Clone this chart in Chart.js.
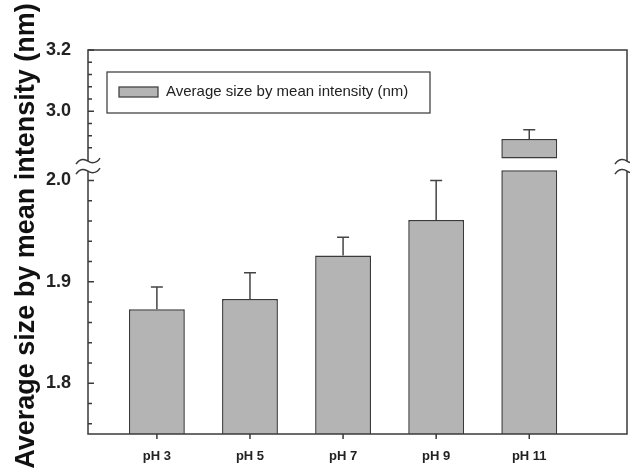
<!DOCTYPE html>
<html>
<head>
<meta charset="utf-8">
<script src="https://cdn.jsdelivr.net/npm/chart.js@4.4.1/dist/chart.umd.min.js"></script>
<style>
  html, body { margin: 0; padding: 0; background: #fff; }
</style>
</head>
<body>
<canvas id="chart" width="630" height="470"></canvas>
<script>
// ---- Data ----
const CATEGORIES = ['pH 3', 'pH 5', 'pH 7', 'pH 9', 'pH 11'];
const SIZES = [1.873, 1.883, 1.926, 1.961, 2.909];
const ERRORS = [0.022, 0.026, 0.018, 0.039, 0.030];
const LOWER_TICKS = [1.8, 1.9, 2.0];
const UPPER_TICKS = [3.0, 3.2];
const LOWER_RANGE = [1.75, 2.02];
const UPPER_RANGE = [2.84, 3.2];
// where a bar crossing the axis break is cut
const BREAK_LOW = 2.01;
const BREAK_HIGH = 2.845;

const SERIES_LABEL = 'Average size by mean intensity (nm)';
const BAR_FILL = '#b4b4b4';
const DARK = '#3a3a3a';

// ---- Datasets (bars split across the broken axis) ----
const lowerBars = SIZES.map((v, i) => ({ x: i + 1, y: Math.min(v, BREAK_LOW) }));
const upperBars = SIZES.map((v, i) => (v > BREAK_HIGH ? { x: i + 1, y: [BREAK_HIGH, v] } : null))
                       .filter(Boolean);

// ---- Plugins ----
const errorBars = {
  id: 'errorBars',
  afterDatasetsDraw(chart) {
    const { ctx } = chart;
    const xs = chart.scales.x;
    ctx.save();
    ctx.strokeStyle = '#444';
    ctx.lineWidth = 1.5;
    SIZES.forEach((v, i) => {
      const ys = v > BREAK_HIGH ? chart.scales.y2 : chart.scales.y;
      const x = xs.getPixelForValue(i + 1);
      const y0 = ys.getPixelForValue(v);
      const y1 = ys.getPixelForValue(v + ERRORS[i]);
      ctx.beginPath();
      ctx.moveTo(x, y0);
      ctx.lineTo(x, y1);
      ctx.moveTo(x - 6, y1);
      ctx.lineTo(x + 6, y1);
      ctx.stroke();
    });
    ctx.restore();
  }
};

const frame = {
  id: 'frame',
  afterDraw(chart) {
    const { ctx, chartArea: a } = chart;
    const lower = chart.scales.y, upper = chart.scales.y2, xs = chart.scales.x;
    ctx.save();
    ctx.strokeStyle = DARK;
    ctx.lineWidth = 1.5;
    ctx.strokeRect(a.left, a.top, a.right - a.left, a.bottom - a.top);

    // inward tick marks on the left axis, outward ones on the bottom axis
    ctx.beginPath();
    for (let k = 88; k <= 100; k++) {
      const v = k / 50;
      const len = k % 5 === 0 ? 6 : 4;
      const y = lower.getPixelForValue(v);
      ctx.moveTo(a.left, y);
      ctx.lineTo(a.left + len, y);
    }
    for (let k = 72; k <= 80; k++) {
      const v = k / 25;
      const len = (k === 75 || k === 80) ? 6 : 4;
      const y = upper.getPixelForValue(v);
      ctx.moveTo(a.left, y);
      ctx.lineTo(a.left + len, y);
    }
    CATEGORIES.forEach((c, i) => {
      const x = xs.getPixelForValue(i + 1);
      ctx.moveTo(x, a.bottom);
      ctx.lineTo(x, a.bottom + 5);
    });
    ctx.stroke();

    // axis break marks
    const yb = lower.top;
    [a.left, a.right].forEach(x => {
      ctx.fillStyle = '#fff';
      ctx.fillRect(x - 2, yb + 1, 4, 10);
      [yb + 1, yb + 11].forEach(y => {
        ctx.beginPath();
        ctx.moveTo(x - 12, y + 3);
        ctx.bezierCurveTo(x - 8, y - 3, x - 3, y - 2, x, y);
        ctx.bezierCurveTo(x + 3, y + 2, x + 8, y + 3, x + 12, y - 3);
        ctx.stroke();
      });
    });

    // legend
    ctx.lineWidth = 1.3;
    ctx.strokeStyle = '#444';
    ctx.strokeRect(107, 72, 323, 41);
    ctx.fillStyle = BAR_FILL;
    ctx.fillRect(119, 87, 39, 10);
    ctx.strokeRect(119, 87, 39, 10);
    ctx.fillStyle = '#222';
    ctx.font = '15px "Liberation Sans", Arial, sans-serif';
    ctx.textBaseline = 'middle';
    ctx.fillText(SERIES_LABEL, 166, 92);

    // y-axis title
    ctx.translate(34, 236);
    ctx.rotate(-Math.PI / 2);
    ctx.textAlign = 'center';
    ctx.textBaseline = 'alphabetic';
    ctx.font = 'bold 27px "Liberation Sans", Arial, sans-serif';
    ctx.fillStyle = '#111';
    ctx.fillText(SERIES_LABEL, 0, 0);
    ctx.restore();
  }
};

// ---- Config ----
const tickFont = { family: '"Liberation Sans", Arial, sans-serif', weight: 'bold', size: 18 };

const config = {
  type: 'bar',
  data: {
    datasets: [
      {
        label: SERIES_LABEL,
        data: lowerBars,
        yAxisID: 'y',
        backgroundColor: BAR_FILL,
        borderColor: DARK,
        borderWidth: 1.5,
        borderSkipped: false,
        grouped: false,
        categoryPercentage: 1,
        barPercentage: 0.6
      },
      {
        label: SERIES_LABEL,
        data: upperBars,
        yAxisID: 'y2',
        backgroundColor: BAR_FILL,
        borderColor: DARK,
        borderWidth: 1.5,
        borderSkipped: false,
        grouped: false,
        categoryPercentage: 1,
        barPercentage: 0.6
      }
    ]
  },
  options: {
    responsive: false,
    animation: false,
    layout: { padding: { top: 50, right: 3, bottom: 0, left: 0 } },
    plugins: {
      legend: { display: false },
      tooltip: { enabled: false }
    },
    scales: {
      x: {
        type: 'linear',
        offset: false,
        min: 0.26,
        max: 6.05,
        afterBuildTicks: s => { s.ticks = CATEGORIES.map((c, i) => ({ value: i + 1 })); },
        afterFit: s => { s.height = 36; },
        ticks: {
          autoSkip: false,
          maxRotation: 0,
          padding: 7,
          color: '#222',
          font: { family: '"Liberation Sans", Arial, sans-serif', weight: 'bold', size: 13 },
          callback: v => CATEGORIES[v - 1]
        },
        grid: { display: false },
        border: { display: false }
      },
      y: {
        type: 'linear',
        position: 'left',
        stack: 'left',
        stackWeight: 275.4,
        min: LOWER_RANGE[0],
        max: LOWER_RANGE[1],
        afterBuildTicks: s => { s.ticks = LOWER_TICKS.map(v => ({ value: v })); },
        afterFit: s => { s.width = 88; },
        ticks: { autoSkip: false, padding: 9, color: '#222', font: tickFont, callback: v => v.toFixed(1) },
        grid: { display: false },
        border: { display: false }
      },
      y2: {
        type: 'linear',
        position: 'left',
        stack: 'left',
        stackWeight: 110.7,
        min: UPPER_RANGE[0],
        max: UPPER_RANGE[1],
        afterBuildTicks: s => { s.ticks = UPPER_TICKS.map(v => ({ value: v })); },
        afterFit: s => { s.width = 88; },
        ticks: { autoSkip: false, padding: 9, color: '#222', font: tickFont, callback: v => v.toFixed(1) },
        grid: { display: false },
        border: { display: false }
      }
    }
  },
  plugins: [errorBars, frame]
};

new Chart(document.getElementById('chart').getContext('2d'), config);
</script>
</body>
</html>
